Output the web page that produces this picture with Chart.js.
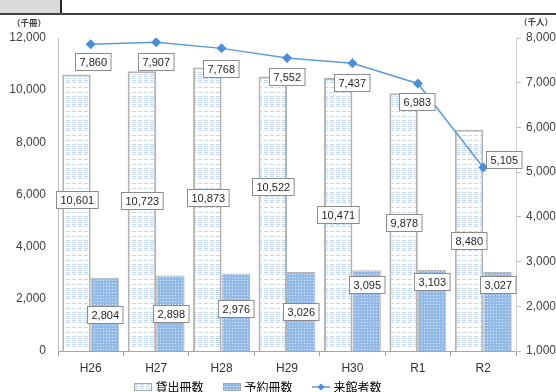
<!DOCTYPE html>
<html>
<head>
<meta charset="utf-8">
<script src="https://cdn.jsdelivr.net/npm/chart.js@4"></script>
<style>
  html, body { margin: 0; padding: 0; background: #fff; }
  #wrap { width: 556px; height: 392px; position: relative; }
</style>
</head>
<body>
<div id="wrap"><canvas id="bar-chart" width="556" height="392"></canvas></div>
<script>
// data
const categories = ['H26', 'H27', 'H28', 'H29', 'H30', 'R1', 'R2'];
const lendingVolumes = [10601, 10723, 10873, 10522, 10471, 9878, 8480];      // 貸出冊数 (千冊)
const reservationVolumes = [2804, 2898, 2976, 3026, 3095, 3103, 3027];       // 予約冊数 (千冊)
const visitors = [7860, 7907, 7768, 7552, 7437, 6983, 5105];                 // 来館者数 (千人)
const leftTicks = [0, 2000, 4000, 6000, 8000, 10000, 12000];
const rightTicks = [1000, 2000, 3000, 4000, 5000, 6000, 7000, 8000];

// label nudges (pixels), the source chart has hand placed labels
const lendingShift = [-13, -11, -12, -27, 0, 0, 0];
const reservationShift = [0, 0, -4, 0, -26, -29, -27];
const visitorShiftX = [2, 0, -1, 0, -1, -1, 20];
const visitorShiftY = [17, 19, 20, 18, 19, 18, -8];

const FONT = "'Liberation Sans', 'Noto Sans CJK JP', sans-serif";
const CJK = "'Noto Sans CJK JP', 'Liberation Sans', sans-serif";
const fmt = v => v.toLocaleString('en-US');

function tile(w, h, draw) {
    const c = document.createElement('canvas');
    c.width = w; c.height = h;
    const g = c.getContext('2d');
    draw(g);
    return c;
}
const lendTile = tile(6, 24, g => {
    g.fillStyle = '#ffffff';
    g.fillRect(0, 0, 6, 24);
    g.fillStyle = '#c4d8f1';
    [0, 2, 4, 6, 8, 10, 15, 20].forEach(r => g.fillRect(0, r, 4, 1));
});
const resTile = tile(3, 3, g => {
    g.fillStyle = '#93b9e6';
    g.fillRect(0, 0, 3, 3);
    g.fillStyle = '#dce9f8';
    g.fillRect(1, 1, 1, 1);
});
const pctx = document.createElement('canvas').getContext('2d');
const lendPattern = pctx.createPattern(lendTile, 'repeat');
const resPattern = pctx.createPattern(resTile, 'repeat');

function legendIcon(kind) {
    return tile(18, 10, g => {
        if (kind === 'line') {
            g.strokeStyle = '#5b9bd5';
            g.lineWidth = 1.5;
            g.beginPath(); g.moveTo(0, 5); g.lineTo(18, 5); g.stroke();
            g.fillStyle = '#4a8fd8';
            g.beginPath(); g.moveTo(9, 1.5); g.lineTo(12.5, 5); g.lineTo(9, 8.5); g.lineTo(5.5, 5); g.closePath(); g.fill();
        } else {
            g.fillStyle = g.createPattern(kind === 'lend' ? lendTile : resTile, 'repeat');
            g.fillRect(1, 2, 16, 6);
            g.strokeStyle = '#a6a6a6';
            g.lineWidth = 1;
            g.strokeRect(0.5, 1.5, 17, 7);
        }
    });
}
const icons = [legendIcon('lend'), legendIcon('res'), legendIcon('line')];

function drawBoxLabel(ctx, text, cx, cy) {
    ctx.font = '11px ' + FONT;
    const w = ctx.measureText(text).width + 8;
    const h = 17;
    const x = Math.round(cx - w / 2) + 0.5, y = Math.round(cy - h / 2) + 0.5;
    ctx.fillStyle = '#ffffff';
    ctx.fillRect(x, y, w, h);
    ctx.strokeStyle = '#8c8c8c';
    ctx.lineWidth = 1;
    ctx.strokeRect(x, y, w, h);
    ctx.fillStyle = '#262626';
    ctx.textAlign = 'center';
    ctx.textBaseline = 'middle';
    ctx.fillText(text, x + w / 2, y + h / 2 + 0.5);
}

const decor = {
    id: 'decor',
    beforeLayout(chart) {
        // keep the legend strip thin, the labels padding is only wanted as the gap between items
        const lg = chart.legend;
        if (lg && !lg._thin) {
            const fit = lg.fit;
            lg.fit = function () { fit.call(this); this.height = 15; };
            lg._thin = true;
        }
    },
    beforeDraw(chart) {
        const ctx = chart.ctx;
        ctx.save();
        ctx.fillStyle = '#d9d9d9';
        ctx.fillRect(0, 0, 60, 13);
        ctx.strokeStyle = '#262626';
        ctx.lineWidth = 2;
        ctx.beginPath(); ctx.moveTo(61, 0); ctx.lineTo(61, 14); ctx.stroke();
        ctx.strokeStyle = '#404040';
        ctx.beginPath(); ctx.moveTo(0, 14); ctx.lineTo(556, 14); ctx.stroke();
        ctx.fillStyle = '#404040';
        ctx.font = 'bold 8.5px ' + CJK;
        ctx.textAlign = 'center';
        ctx.textBaseline = 'middle';
        ctx.fillText('（千冊）', 29, 23);
        ctx.fillText('（千人）', 536, 22);
        ctx.restore();
    },
    afterLayout(chart) {
        const lg = chart.legend;
        if (!lg) return;
        lg.top = 359; lg.bottom = 392;
        lg.left -= 19; lg.right -= 19;
    },
    afterDatasetsDraw(chart) {
        const ctx = chart.ctx;
        ctx.save();
        chart.getDatasetMeta(0).data.forEach((el, i) => {
            drawBoxLabel(ctx, fmt(lendingVolumes[i]), el.x, (el.y + el.base) / 2 + lendingShift[i]);
        });
        chart.getDatasetMeta(1).data.forEach((el, i) => {
            drawBoxLabel(ctx, fmt(reservationVolumes[i]), el.x, (el.y + el.base) / 2 + reservationShift[i]);
        });
        chart.getDatasetMeta(2).data.forEach((el, i) => {
            drawBoxLabel(ctx, fmt(visitors[i]), el.x + visitorShiftX[i], el.y + visitorShiftY[i]);
        });
        ctx.restore();
    }
};

Chart.defaults.font.family = FONT;
Chart.defaults.font.size = 12;
Chart.defaults.color = '#404040';

new Chart(document.getElementById('bar-chart'), {
    type: 'bar',
    data: {
        labels: categories,
        datasets: [
            {
                label: '貸出冊数',
                data: lendingVolumes,
                backgroundColor: lendPattern,
                borderColor: '#b4b4b4',
                borderWidth: {top: 2, left: 2, right: 2, bottom: 0},
                borderSkipped: false,
                yAxisID: 'y',
                order: 2,
                categoryPercentage: 0.87,
                barPercentage: 1.0
            },
            {
                label: '予約冊数',
                data: reservationVolumes,
                backgroundColor: resPattern,
                borderColor: '#b8b8b8',
                borderWidth: {top: 1, left: 1, right: 1, bottom: 0},
                borderSkipped: false,
                yAxisID: 'y',
                order: 2,
                categoryPercentage: 0.87,
                barPercentage: 1.0
            },
            {
                type: 'line',
                label: '来館者数',
                data: visitors,
                yAxisID: 'y1',
                borderColor: '#5b9bd5',
                backgroundColor: '#4a8fd8',
                borderWidth: 1.5,
                pointStyle: 'rectRot',
                pointRadius: 5,
                pointBorderWidth: 0,
                tension: 0,
                order: 1
            }
        ]
    },
    options: {
        responsive: false,
        animation: false,
        layout: {padding: {top: 38, left: 0, right: 0, bottom: 0}},
        plugins: {
            legend: {
                position: 'bottom',
                labels: {
                    usePointStyle: true,
                    pointStyleWidth: 13,
                    boxHeight: 10,
                    padding: 22,
                    color: '#404040',
                    font: {family: CJK, size: 12},
                    generateLabels(chart) {
                        return chart.data.datasets.map((ds, i) => ({
                            text: ds.label,
                            pointStyle: icons[i],
                            fillStyle: 'transparent',
                            strokeStyle: 'transparent',
                            lineWidth: 0,
                            hidden: false,
                            datasetIndex: i
                        }));
                    }
                }
            },
            tooltip: {enabled: false}
        },
        scales: {
            x: {
                grid: {display: true, drawOnChartArea: false, offset: true, tickLength: 5, color: '#a6a6a6'},
                border: {display: true, color: '#a6a6a6', width: 1},
                ticks: {padding: 5, color: '#333333', font: {size: 12}},
                afterFit(scale) { scale.height = 26; }
            },
            y: {
                position: 'left',
                min: 0,
                max: 12000,
                afterBuildTicks(scale) { scale.ticks = leftTicks.map(v => ({value: v})); },
                ticks: {padding: 12, color: '#404040', callback: v => fmt(v)},
                grid: {display: false, drawTicks: false},
                border: {display: true, color: '#bfbfbf', width: 1},
                afterFit(scale) { scale.width = 58; }
            },
            y1: {
                position: 'right',
                min: 1000,
                max: 8000,
                afterBuildTicks(scale) { scale.ticks = rightTicks.map(v => ({value: v})); },
                ticks: {padding: 5, color: '#404040', callback: v => fmt(v)},
                grid: {display: true, drawOnChartArea: false, tickLength: 5, color: '#bfbfbf'},
                border: {display: true, color: '#d0d0d0', width: 1},
                afterFit(scale) { scale.width = 40; }
            }
        }
    },
    plugins: [decor]
});
</script>
</body>
</html>
